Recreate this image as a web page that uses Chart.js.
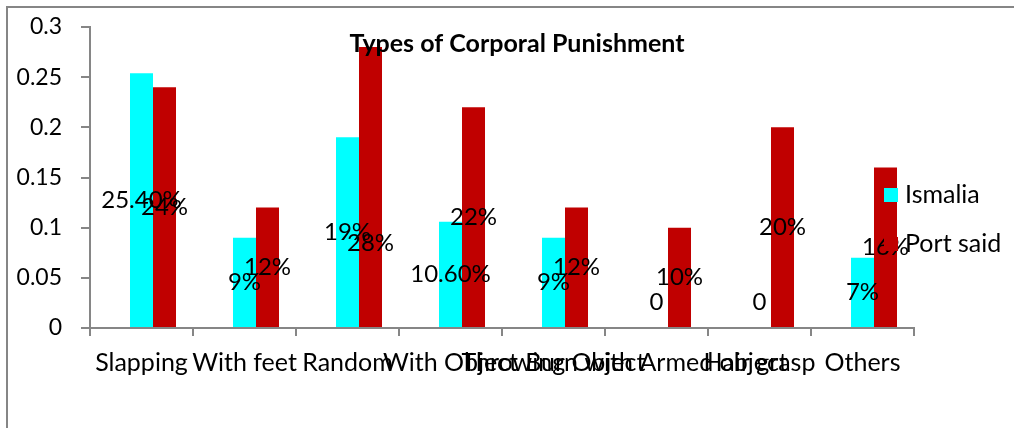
<!DOCTYPE html>
<html>
<head>
<meta charset="utf-8">
<script src="https://cdn.jsdelivr.net/npm/chart.js@4"></script>
<style>
  html, body { margin: 0; padding: 0; background: #ffffff; }
  #wrap { width: 1014px; height: 428px; position: relative; }
</style>
</head>
<body>
<div id="wrap"><canvas id="c" width="1014" height="428"></canvas></div>
<script>
const categories = ['Slapping', 'With feet', 'Random', 'With Object', 'Throwing Object', 'Burn with Armed object', 'Hair grasp', 'Others'];
const ismaliaValues = [0.254, 0.09, 0.19, 0.106, 0.09, 0, 0, 0.07];
const portSaidValues = [0.24, 0.12, 0.28, 0.22, 0.12, 0.10, 0.20, 0.16];
const ismaliaLabels = ['25.40%', '9%', '19%', '10.60%', '9%', '0', '0', '7%'];
const portSaidLabels = ['24%', '12%', '28%', '22%', '12%', '10%', '20%', '16%'];
const emptySeries = [null, null, null, null, null, null, null, null];
const yTicks = [0, 0.05, 0.1, 0.15, 0.2, 0.25, 0.3];
const yTickLabels = ['0', '0.05', '0.1', '0.15', '0.2', '0.25', '0.3'];
const chartTitle = 'Types of Corporal Punishment';

const FONT = 'Lato, "Open Sans", sans-serif';
const AXIS_GREY = '#868686';

const framePlugin = {
  id: 'frame',
  beforeDraw(chart) {
    const ctx = chart.ctx;
    ctx.save();
    ctx.fillStyle = '#ffffff';
    ctx.fillRect(0, 0, chart.width, chart.height);
    ctx.strokeStyle = AXIS_GREY;
    ctx.lineWidth = 2;
    ctx.strokeRect(7, 7, chart.width + 20, chart.height + 20);
    ctx.restore();
  }
};

const labelPlugin = {
  id: 'barLabels',
  afterDatasetsDraw(chart, args, opts) {
    const ctx = chart.ctx;
    ctx.save();
    ctx.font = opts.font;
    ctx.fillStyle = '#000000';
    ctx.textAlign = 'center';
    ctx.textBaseline = 'middle';
    chart.data.datasets.forEach((ds, di) => {
      if (!ds.valueLabels) return;
      const meta = chart.getDatasetMeta(di);
      meta.data.forEach((bar, i) => {
        const p = bar.getProps(['x', 'y', 'base'], true);
        let cy = Math.min((p.y + p.base) / 2, p.base - opts.minLift);
        const key = di + '-' + i;
        if (opts.nudge[key]) cy += opts.nudge[key];
        ctx.fillText(ds.valueLabels[i], p.x, cy);
      });
    });
    ctx.restore();
  }
};

const overlayPlugin = {
  id: 'overlay',
  afterDatasetsDraw(chart, args, opts) {
    const ctx = chart.ctx;
    const area = chart.chartArea;
    ctx.save();
    // title
    ctx.font = opts.titleFont;
    ctx.fillStyle = '#000000';
    ctx.textAlign = 'center';
    ctx.textBaseline = 'middle';
    ctx.fillText(chartTitle, (area.left + area.right) / 2 + 15, 44);
    // legend
    ctx.font = opts.legendFont;
    ctx.textAlign = 'left';
    let ly = 195;
    chart.data.datasets.forEach(ds => {
      if (!ds.label) return;
      ctx.fillStyle = ds.backgroundColor;
      ctx.fillRect(area.right - 30, ly - 7, 14, 14);
      ctx.fillStyle = '#000000';
      ctx.fillText(ds.label, area.right - 9, ly);
      ly += 49;
    });
    ctx.restore();
  }
};

new Chart(document.getElementById('c'), {
  type: 'bar',
  data: {
    labels: categories,
    datasets: [
      { label: '', data: emptySeries, backgroundColor: 'rgba(0,0,0,0)' },
      { label: 'Ismalia', data: ismaliaValues, backgroundColor: '#00FFFF', valueLabels: ismaliaLabels },
      { label: 'Port said', data: portSaidValues, backgroundColor: '#C00000', valueLabels: portSaidLabels }
    ]
  },
  options: {
    responsive: false,
    animation: false,
    devicePixelRatio: 1,
    layout: { padding: { top: 27, right: 100, bottom: 0, left: 0 } },
    datasets: { bar: { categoryPercentage: 0.67, barPercentage: 1.0 } },
    plugins: {
      legend: { display: false },
      title: { display: false },
      tooltip: { enabled: false },
      barLabels: { font: '24px ' + FONT, minLift: 26, nudge: { '2-2': 56 } },
      overlay: { titleFont: 'bold 25px ' + FONT, legendFont: '25px ' + FONT }
    },
    scales: {
      x: {
        grid: { display: true, offset: true, drawOnChartArea: false, drawTicks: true, tickLength: 8, color: AXIS_GREY, lineWidth: 2 },
        border: { display: true, color: AXIS_GREY, width: 2 },
        ticks: { color: '#000000', font: { family: FONT, size: 25 }, autoSkip: false, maxRotation: 0, minRotation: 0, padding: 12 },
        afterFit(scale) { scale.height = 100; }
      },
      y: {
        min: 0,
        max: 0.3,
        afterBuildTicks(scale) { scale.ticks = yTicks.map(v => ({ value: v })); },
        grid: { display: true, drawOnChartArea: false, drawTicks: true, tickLength: 9, color: AXIS_GREY, lineWidth: 2 },
        border: { display: true, color: AXIS_GREY, width: 2 },
        ticks: {
          color: '#000000',
          font: { family: FONT, size: 23, lineHeight: 0.3 },
          padding: 19,
          callback(value) { const idx = yTicks.indexOf(value); return idx >= 0 ? yTickLabels[idx] : ''; }
        },
        afterFit(scale) { scale.width = 90; }
      }
    }
  },
  plugins: [framePlugin, labelPlugin, overlayPlugin]
});
</script>
</body>
</html>
